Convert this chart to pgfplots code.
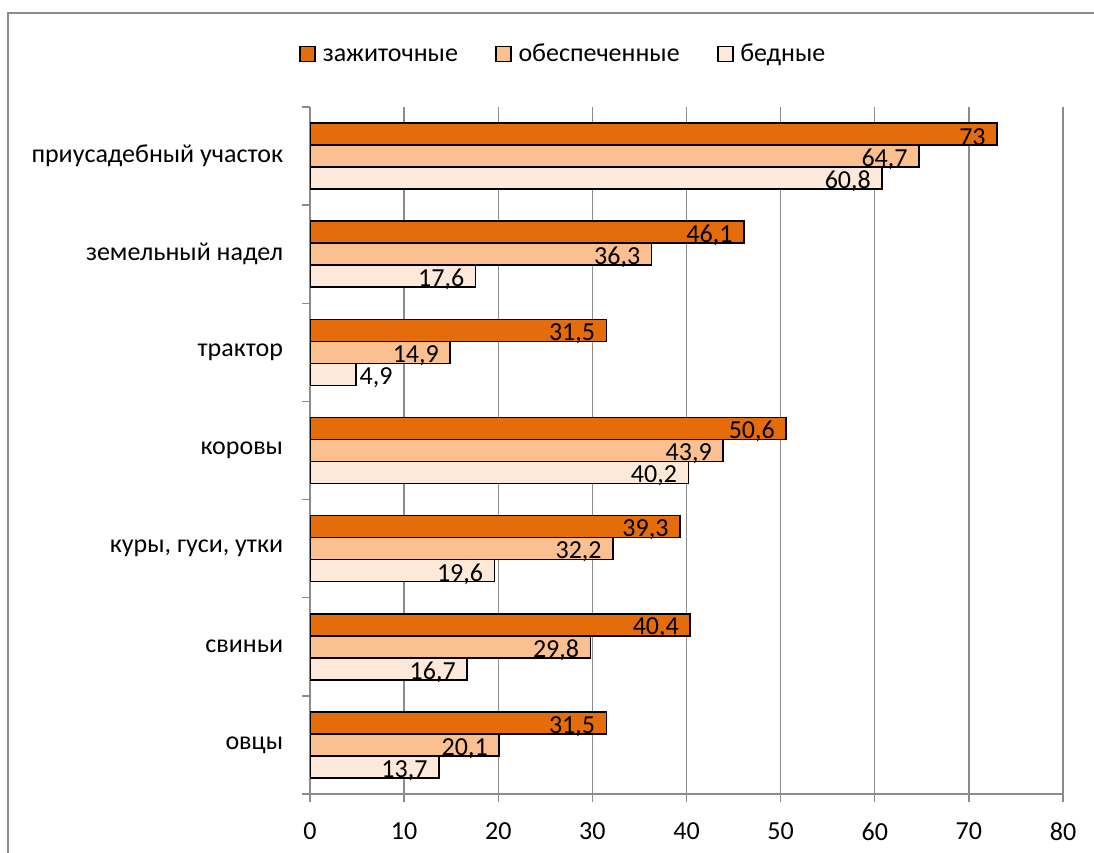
\documentclass[border=0pt]{standalone}
\usepackage{fontspec}
\setmainfont{Carlito}
\usepackage{pgfplots}
\pgfplotsset{compat=1.18}
\definecolor{c1}{HTML}{E46C0A}
\definecolor{c2}{HTML}{FAC090}
\definecolor{c3}{HTML}{FDE9D9}
\definecolor{gridc}{HTML}{8C8C8C}
\begin{document}
\fontsize{19.5}{23}\selectfont
\begin{tikzpicture}
\useasboundingbox (0,0) rectangle (820.5pt,639pt);
\draw[gridc, line width=1.5pt] (6pt,-10pt) -- (6pt,629.25pt) -- (830pt,629.25pt);
\begin{axis}[
  at={(232.5pt,43.5pt)}, anchor=south west,
  scale only axis, width=564.75pt, height=515.25pt,
  xbar, bar width=16.5pt,
  xmin=0, xmax=80, ymin=-0.5, ymax=6.5,
  xtick={0,10,...,80},
  ytick={0,...,6},
  yticklabels={овцы, свиньи, {куры, гуси, утки}, коровы, трактор, земельный надел, приусадебный участок},
  minor ytick={-0.5,0.5,...,6.5},
  axis x line*=bottom, axis y line*=left,
  axis line style={gridc, line width=1pt, -},
  xmajorgrids, grid style={gridc, line width=1pt},
  tick align=outside,
  major tick length=6pt, minor tick length=6pt,
  major x tick style={gridc, line width=1pt},
  major y tick style={draw=none},
  minor y tick style={gridc, line width=1pt},
  /pgf/number format/.cd, use comma, assume math mode=true, 1000 sep={},
  /pgfplots/.cd,
  tick label style={font=\fontsize{19.5}{23}\selectfont, black},
  yticklabel style={xshift=-7.5pt},
  xticklabel style={yshift=-9pt},
  legend style={at={(0.337,1.075)}, anchor=center, draw=none, fill=none,
    legend columns=3, font=\fontsize{19.5}{23}\selectfont,
    nodes={text height=0.72em, text depth=0.22em},
    /tikz/every odd column/.append style={column sep=3pt},
    /tikz/every even column/.append style={column sep=26pt}},
  nodes near coords,
  every node near coord/.append style={anchor=east, font=\fontsize{19.5}{23}\selectfont, black, inner sep=1pt, xshift=-7pt, yshift=-2.5pt},
  mybar/.style={draw=black, line width=1.2pt, fill=#1,
    legend image code/.code={\draw[fill=#1, draw=black, line width=1.2pt] (0pt,-4.5pt) rectangle (11.25pt,6.75pt);}},
]
\addplot[mybar=c1, bar shift=16.5pt] coordinates {(73,6) (46.1,5) (31.5,4) (50.6,3) (39.3,2) (40.4,1) (31.5,0)};
\addlegendentry{зажиточные}
\addplot[mybar=c2, bar shift=0pt] coordinates {(64.7,6) (36.3,5) (14.9,4) (43.9,3) (32.2,2) (29.8,1) (20.1,0)};
\addlegendentry{обеспеченные}
\addplot[mybar=c3, bar shift=-16.5pt] coordinates {(60.8,6) (17.6,5) (40.2,3) (19.6,2) (16.7,1) (13.7,0)};
\addlegendentry{бедные}
\addplot[mybar=c3, bar shift=-16.5pt, forget plot, every node near coord/.append style={anchor=west, xshift=8pt}] coordinates {(4.9,4)};
\end{axis}
\end{tikzpicture}
\end{document}
